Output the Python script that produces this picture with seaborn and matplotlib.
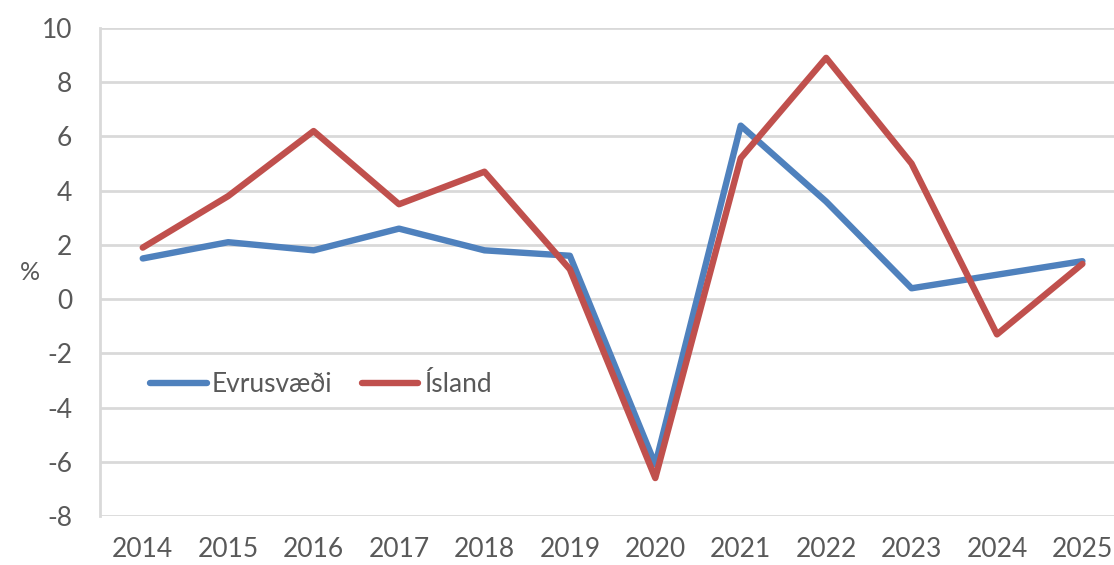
import pandas as pd
import matplotlib.pyplot as plt
import seaborn as sns

# Data
years = [2014, 2015, 2016, 2017, 2018, 2019, 2020, 2021, 2022, 2023, 2024, 2025]
evrusvaedi = [1.5, 2.1, 1.8, 2.6, 1.8, 1.6, -6.1, 6.4, 3.6, 0.4, 0.9, 1.4]
island = [1.9, 3.8, 6.2, 3.5, 4.7, 1.1, -6.6, 5.2, 8.9, 5.0, -1.3, 1.3]
series_names = ["Evrusvæði", "Ísland"]
colors = ["#4f81bd", "#c0504d"]

df = pd.DataFrame({
    "Ár": years * 2,
    "Gildi": evrusvaedi + island,
    "Röð": [series_names[0]] * len(years) + [series_names[1]] * len(years),
})

sns.set_theme(style="white")
plt.rcParams['font.family'] = ['Lato', 'DejaVu Sans']
plt.rcParams['axes.unicode_minus'] = False

fig = plt.figure(figsize=(11.14, 5.65), dpi=100)
ax = fig.add_axes([0.0898, 0.0867, 0.9102, 0.8637])

sns.lineplot(data=df, x="Ár", y="Gildi", hue="Röð", palette=colors,
             linewidth=4.6, ax=ax, legend=True, sort=False)
for line in ax.lines:
    line.set_solid_joinstyle("round")
    line.set_solid_capstyle("round")

ax.set_ylim(-8, 10)
ax.set_xlim(2013.5, 2025.37)
ax.set_yticks(range(-8, 11, 2))
ax.set_xticks(years)
ax.set_xticklabels([str(y) for y in years])
ax.grid(axis="y", color="#d9d9d9", linewidth=2)
ax.set_axisbelow(True)
for s in ["top", "right", "bottom"]:
    ax.spines[s].set_visible(False)
ax.spines["left"].set_color("#d9d9d9")
ax.spines["left"].set_linewidth(2)
ax.tick_params(axis="both", length=0, labelsize=19, colors="#595959")
ax.tick_params(axis="y", pad=20)
ax.tick_params(axis="x", pad=15)
ax.set_xlabel("")
ax.set_ylabel("")

fig.text(0.018, 1 - 272 / 565, "%", fontsize=18, color="#595959",
         ha="left", va="center")

handles, labels = ax.get_legend_handles_labels()
ax.legend(handles, labels, loc="center left",
          bbox_to_anchor=(150 / 1114, 1 - 385 / 565),
          bbox_transform=fig.transFigure, frameon=False, ncol=2,
          fontsize=19, handlelength=2.15, handletextpad=0.2,
          columnspacing=1.1, borderpad=0, borderaxespad=0,
          labelcolor="#595959")

fig.savefig("out.png", dpi=100)
